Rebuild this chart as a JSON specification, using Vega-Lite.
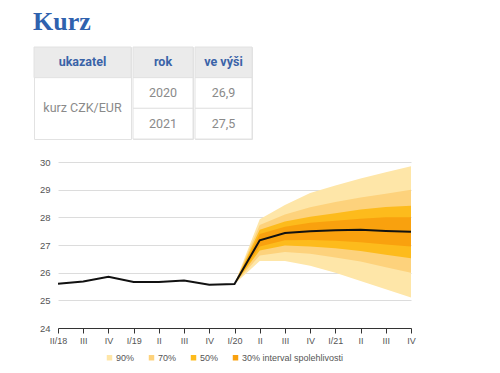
{
  "$schema": "https://vega.github.io/schema/vega-lite/v6.json",
  "padding": {"left": 33, "top": 9, "right": 5, "bottom": 0},
  "background": "white",
  "title": {"text": "Kurz", "anchor": "start", "font": "Liberation Serif", "fontSize": 26, "fontWeight": "bold", "color": "#2f62ae", "offset": 11},
  "config": {"legend": {"layout": {"bottom": {"anchor": "middle"}}}},
  "datasets": {
    "line": [
      {"q": "II/18", "v": 25.6}, {"q": "III/18", "v": 25.68}, {"q": "IV/18", "v": 25.85},
      {"q": "I/19", "v": 25.66}, {"q": "II/19", "v": 25.66}, {"q": "III/19", "v": 25.72},
      {"q": "IV/19", "v": 25.56}, {"q": "I/20", "v": 25.59}, {"q": "II/20", "v": 27.17},
      {"q": "III/20", "v": 27.43}, {"q": "IV/20", "v": 27.5}, {"q": "I/21", "v": 27.53},
      {"q": "II/21", "v": 27.55}, {"q": "III/21", "v": 27.51}, {"q": "IV/21", "v": 27.48}
    ],
    "fan": [
      {"q": "I/20", "b": "90%", "lo": 25.59, "hi": 25.59},
      {"q": "II/20", "b": "90%", "lo": 26.42, "hi": 27.93},
      {"q": "III/20", "b": "90%", "lo": 26.42, "hi": 28.45},
      {"q": "IV/20", "b": "90%", "lo": 26.25, "hi": 28.88},
      {"q": "I/21", "b": "90%", "lo": 26.0, "hi": 29.15},
      {"q": "II/21", "b": "90%", "lo": 25.7, "hi": 29.4},
      {"q": "III/21", "b": "90%", "lo": 25.4, "hi": 29.63},
      {"q": "IV/21", "b": "90%", "lo": 25.1, "hi": 29.85},
      {"q": "I/20", "b": "70%", "lo": 25.59, "hi": 25.59},
      {"q": "II/20", "b": "70%", "lo": 26.62, "hi": 27.72},
      {"q": "III/20", "b": "70%", "lo": 26.75, "hi": 28.1},
      {"q": "IV/20", "b": "70%", "lo": 26.68, "hi": 28.36},
      {"q": "I/21", "b": "70%", "lo": 26.55, "hi": 28.55},
      {"q": "II/21", "b": "70%", "lo": 26.4, "hi": 28.72},
      {"q": "III/21", "b": "70%", "lo": 26.2, "hi": 28.85},
      {"q": "IV/21", "b": "70%", "lo": 26.0, "hi": 29.0},
      {"q": "I/20", "b": "50%", "lo": 25.59, "hi": 25.59},
      {"q": "II/20", "b": "50%", "lo": 26.8, "hi": 27.55},
      {"q": "III/20", "b": "50%", "lo": 26.98, "hi": 27.85},
      {"q": "IV/20", "b": "50%", "lo": 26.95, "hi": 28.02},
      {"q": "I/21", "b": "50%", "lo": 26.88, "hi": 28.15},
      {"q": "II/21", "b": "50%", "lo": 26.78, "hi": 28.28},
      {"q": "III/21", "b": "50%", "lo": 26.65, "hi": 28.37},
      {"q": "IV/21", "b": "50%", "lo": 26.52, "hi": 28.42},
      {"q": "I/20", "b": "30% interval spolehlivosti", "lo": 25.59, "hi": 25.59},
      {"q": "II/20", "b": "30% interval spolehlivosti", "lo": 26.95, "hi": 27.4},
      {"q": "III/20", "b": "30% interval spolehlivosti", "lo": 27.17, "hi": 27.66},
      {"q": "IV/20", "b": "30% interval spolehlivosti", "lo": 27.18, "hi": 27.8},
      {"q": "I/21", "b": "30% interval spolehlivosti", "lo": 27.15, "hi": 27.88},
      {"q": "II/21", "b": "30% interval spolehlivosti", "lo": 27.1, "hi": 27.95},
      {"q": "III/21", "b": "30% interval spolehlivosti", "lo": 27.02, "hi": 28.0},
      {"q": "IV/21", "b": "30% interval spolehlivosti", "lo": 26.95, "hi": 28.0}
    ]
  },
  "spacing": 17,
  "vconcat": [
    {
      "spacing": 0,
      "hconcat": [
        {
          "width": 97, "height": 92,
          "view": {"stroke": "#e2e2e2", "fill": "white"},
          "data": {"values": [{"r": "h", "t": "ukazatel"}, {"r": "a", "t": "kurz CZK/EUR"}]},
          "encoding": {"y": {"field": "r", "type": "nominal", "scale": {"domain": ["h", "a", "b"], "paddingInner": 0, "paddingOuter": 0}, "axis": null}},
          "layer": [
            {"transform": [{"filter": "datum.r == 'h'"}], "mark": {"type": "rect", "fill": "#ebebeb", "stroke": "#e2e2e2"}},
            {"transform": [{"filter": "datum.r == 'h'"}], "mark": {"type": "text", "font": "Roboto", "fontWeight": "bold", "fontSize": 12.5, "color": "#3a63a8"}, "encoding": {"text": {"field": "t"}}},
            {"transform": [{"filter": "datum.r != 'h'"}], "mark": {"type": "text", "font": "Roboto", "fontSize": 12.5, "color": "#8a8a8a", "yOffset": 15.3}, "encoding": {"text": {"field": "t"}}}
          ]
        },
        {
          "width": 60, "height": 92,
          "view": {"stroke": "#e2e2e2", "fill": "white"},
          "data": {"values": [{"r": "h", "t": "rok"}, {"r": "a", "t": "2020"}, {"r": "b", "t": "2021"}]},
          "encoding": {"y": {"field": "r", "type": "nominal", "scale": {"domain": ["h", "a", "b"], "paddingInner": 0, "paddingOuter": 0}, "axis": null}},
          "layer": [
            {"mark": {"type": "rect", "stroke": "#e2e2e2"}, "encoding": {"fill": {"condition": {"test": "datum.r == 'h'", "value": "#ebebeb"}, "value": "#ffffff"}}},
            {"transform": [{"filter": "datum.r == 'h'"}], "mark": {"type": "text", "font": "Roboto", "fontWeight": "bold", "fontSize": 12.5, "color": "#3a63a8"}, "encoding": {"text": {"field": "t"}}},
            {"transform": [{"filter": "datum.r != 'h'"}], "mark": {"type": "text", "font": "Roboto", "fontSize": 12.5, "color": "#8a8a8a"}, "encoding": {"text": {"field": "t"}}}
          ]
        },
        {
          "width": 57, "height": 92,
          "view": {"stroke": "#e2e2e2", "fill": "white"},
          "data": {"values": [{"r": "h", "t": "ve výši"}, {"r": "a", "t": "26,9"}, {"r": "b", "t": "27,5"}]},
          "encoding": {"y": {"field": "r", "type": "nominal", "scale": {"domain": ["h", "a", "b"], "paddingInner": 0, "paddingOuter": 0}, "axis": null}},
          "layer": [
            {"mark": {"type": "rect", "stroke": "#e2e2e2"}, "encoding": {"fill": {"condition": {"test": "datum.r == 'h'", "value": "#ebebeb"}, "value": "#ffffff"}}},
            {"transform": [{"filter": "datum.r == 'h'"}], "mark": {"type": "text", "font": "Roboto", "fontWeight": "bold", "fontSize": 12.5, "color": "#3a63a8"}, "encoding": {"text": {"field": "t"}}},
            {"transform": [{"filter": "datum.r != 'h'"}], "mark": {"type": "text", "font": "Roboto", "fontSize": 12.5, "color": "#8a8a8a"}, "encoding": {"text": {"field": "t"}}}
          ]
        }
      ]
    },
    {
      "spacing": 0,
      "hconcat": [
        {
          "width": 1, "height": 1,
          "view": {"stroke": null},
          "data": {"values": []},
          "mark": {"type": "point", "opacity": 0}
        },
        {
          "width": 353, "height": 166,
          "view": {"stroke": null},
          "encoding": {
            "x": {
              "field": "q", "type": "ordinal",
              "scale": {"type": "point", "padding": 0, "domain": ["II/18", "III/18", "IV/18", "I/19", "II/19", "III/19", "IV/19", "I/20", "II/20", "III/20", "IV/20", "I/21", "II/21", "III/21", "IV/21"]},
              "axis": {"title": null, "labelAngle": 0, "labelExpr": "datum.value == 'II/18' || indexof(datum.value, 'I/') == 0 ? datum.value : split(datum.value, '/')[0]", "domainColor": "#333333", "tickColor": "#333333", "tickSize": 5, "labelColor": "#555555", "labelFontSize": 9, "labelFont": "Liberation Sans", "grid": false, "labelPadding": 3}
            }
          },
          "layer": [
            {
              "data": {"name": "fan"},
              "transform": [{"filter": "datum.b == '90%'"}],
              "mark": {"type": "area"},
              "encoding": {
                "y": {"field": "lo", "type": "quantitative", "scale": {"domain": [24, 30], "nice": false, "zero": false}, "axis": {"title": null, "values": [24, 25, 26, 27, 28, 29, 30], "tickCount": 20, "format": "d", "labelOverlap": false, "domain": false, "ticks": false, "gridColor": "#dcdcdc", "labelColor": "#555555", "labelFontSize": 9.5, "labelFont": "Liberation Sans", "labelPadding": 8, "minExtent": 23}},
                "y2": {"field": "hi"},
                "color": {"field": "b", "type": "nominal", "scale": {"domain": ["90%", "70%", "50%", "30% interval spolehlivosti"], "range": ["#fee6a8", "#fdd27c", "#fdbb1c", "#f9a10e"]}, "legend": {"title": null, "orient": "bottom", "direction": "horizontal", "symbolType": "square", "symbolSize": 30, "symbolStrokeWidth": 0, "labelFontSize": 9, "labelColor": "#555555", "labelFont": "Liberation Sans", "columnPadding": 12, "labelOffset": 2, "offset": 8}}
              }
            },
            {
              "data": {"name": "fan"},
              "transform": [{"filter": "datum.b == '70%'"}],
              "mark": {"type": "area"},
              "encoding": {"y": {"field": "lo", "type": "quantitative"}, "y2": {"field": "hi"}, "color": {"field": "b", "type": "nominal"}}
            },
            {
              "data": {"name": "fan"},
              "transform": [{"filter": "datum.b == '50%'"}],
              "mark": {"type": "area"},
              "encoding": {"y": {"field": "lo", "type": "quantitative"}, "y2": {"field": "hi"}, "color": {"field": "b", "type": "nominal"}}
            },
            {
              "data": {"name": "fan"},
              "transform": [{"filter": "datum.b == '30% interval spolehlivosti'"}],
              "mark": {"type": "area"},
              "encoding": {"y": {"field": "lo", "type": "quantitative"}, "y2": {"field": "hi"}, "color": {"field": "b", "type": "nominal"}}
            },
            {
              "data": {"name": "line"},
              "mark": {"type": "line", "color": "#111111", "strokeWidth": 2},
              "encoding": {"y": {"field": "v", "type": "quantitative"}}
            }
          ]
        }
      ]
    }
  ]
}
